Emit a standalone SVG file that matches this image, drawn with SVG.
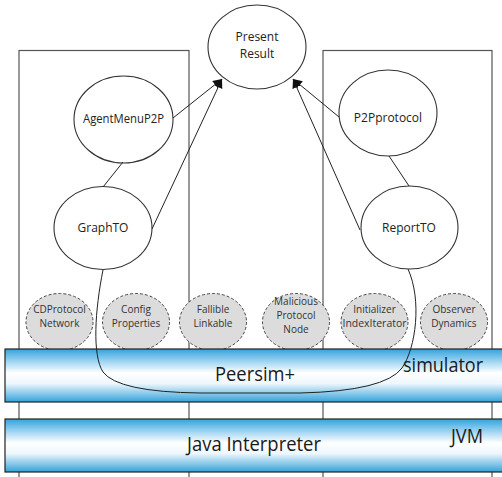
<svg xmlns="http://www.w3.org/2000/svg" width="502" height="477" viewBox="0 0 502 477">
<defs>
<linearGradient id="bar" x1="0" y1="0" x2="0" y2="1">
<stop offset="0" stop-color="#33a2db"/>
<stop offset="0.2" stop-color="#8fcdef"/>
<stop offset="0.45" stop-color="#ffffff"/>
<stop offset="0.65" stop-color="#eef7fc"/>
<stop offset="1" stop-color="#33a2db"/>
</linearGradient>
<marker id="arr" viewBox="0 0 10 10" refX="10" refY="5" markerWidth="9" markerHeight="9" markerUnits="userSpaceOnUse" orient="auto">
<path d="M0,0 L10,5 L0,10 z" fill="#111"/>
</marker>
</defs>
<style>
.frame{fill:none;stroke:#555;stroke-width:1.2}
.node{fill:#fff;stroke:#333;stroke-width:1.1}
.lib{fill:#dcdcdc;stroke:#444;stroke-width:1;stroke-dasharray:3 2}
.bar{fill:url(#bar);stroke:#222;stroke-width:1.2}
.lbl{font-family:"Open Sans","DejaVu Sans",sans-serif;font-size:12px;fill:#222;text-anchor:middle}
.sm{font-family:"Open Sans","DejaVu Sans",sans-serif;font-size:10px;fill:#333;text-anchor:middle}
.big{font-family:"Open Sans","DejaVu Sans",sans-serif;font-size:19.5px;fill:#1a1a1a;text-anchor:middle}
.edge{fill:none;stroke:#222;stroke-width:1}
</style>
<rect width="502" height="477" fill="#fff"/>
<g id="frames">
<rect class="frame" x="19" y="50.5" width="170" height="440"/>
<rect class="frame" x="323" y="50.5" width="169" height="440"/>
</g>
<g id="present-result"><ellipse class="node" cx="257" cy="47" rx="49" ry="42"/><text class="lbl" x="257" y="41">Present</text><text class="lbl" x="257" y="58">Result</text></g>
<g id="agentmenup2p"><ellipse class="node" cx="123.5" cy="119.5" rx="49.5" ry="43.5"/><text class="lbl" x="123.5" y="123" textLength="81" lengthAdjust="spacingAndGlyphs">AgentMenuP2P</text></g>
<g id="graphto"><ellipse class="node" cx="103" cy="228" rx="49" ry="41.5"/><text class="lbl" x="103" y="232">GraphTO</text></g>
<g id="p2pprotocol"><ellipse class="node" cx="388" cy="113" rx="49" ry="43"/><text class="lbl" x="388" y="122">P2Pprotocol</text></g>
<g id="reportto"><ellipse class="node" cx="409.5" cy="227.5" rx="48.5" ry="41.5"/><text class="lbl" x="409" y="232">ReportTO</text></g>
<g id="cdprotocol"><ellipse class="lib" cx="59.5" cy="322" rx="33.5" ry="28.5"/><text class="sm" x="59.5" y="313">CDProtocol</text><text class="sm" x="59.5" y="327">Network</text></g>
<g id="config"><ellipse class="lib" cx="136" cy="322" rx="33.5" ry="28.5"/><text class="sm" x="136" y="313">Config</text><text class="sm" x="136" y="327">Properties</text></g>
<g id="fallible"><ellipse class="lib" cx="213" cy="322" rx="33.5" ry="28.5"/><text class="sm" x="213" y="313">Fallible</text><text class="sm" x="213" y="327">Linkable</text></g>
<g id="malicious"><ellipse class="lib" cx="296" cy="322" rx="33.5" ry="28.5"/><text class="sm" x="296" y="305">Malicious</text><text class="sm" x="296" y="319">Protocol</text><text class="sm" x="296" y="333">Node</text></g>
<g id="initializer"><ellipse class="lib" cx="374.5" cy="322" rx="33.5" ry="28.5"/><text class="sm" x="374.5" y="313">Initializer</text><text class="sm" x="374.5" y="327" textLength="64" lengthAdjust="spacingAndGlyphs">IndexIterator</text></g>
<g id="observer"><ellipse class="lib" cx="454" cy="322" rx="33.5" ry="28.5"/><text class="sm" x="454" y="313">Observer</text><text class="sm" x="454" y="327">Dynamics</text></g>
<g id="peersim"><rect class="bar" x="5" y="349" width="500" height="53"/><text class="big" x="255" y="381" textLength="80" lengthAdjust="spacingAndGlyphs">Peersim+</text><text class="big" x="443" y="372" textLength="80" lengthAdjust="spacingAndGlyphs">simulator</text></g>
<g id="java"><rect class="bar" x="5" y="419" width="500" height="53"/><text class="big" x="254" y="451" textLength="134" lengthAdjust="spacingAndGlyphs">Java Interpreter</text><text class="big" x="467" y="443" textLength="32" lengthAdjust="spacingAndGlyphs">JVM</text></g>
<g id="connectors">
<line class="edge" x1="123" y1="162" x2="103" y2="187"/>
<line class="edge" x1="389" y1="156" x2="409" y2="186"/>
<line class="edge" x1="173" y1="118" x2="222" y2="79" marker-end="url(#arr)"/>
<line class="edge" x1="152" y1="229" x2="222" y2="79" marker-end="url(#arr)"/>
<line class="edge" x1="339" y1="117" x2="293" y2="79" marker-end="url(#arr)"/>
<line class="edge" x1="360" y1="230" x2="293" y2="79" marker-end="url(#arr)"/>
<path class="edge" d="M103,270 C95,310 92,355 103,372 Q118,392 200,393 L300,393 Q385,391 402,368 C416,348 422,300 408,269"/>
</g>
</svg>
